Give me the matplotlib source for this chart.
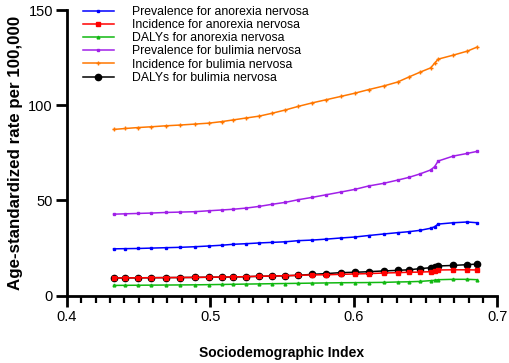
import matplotlib
matplotlib.use('Agg')
import matplotlib.pyplot as plt
from matplotlib.ticker import MultipleLocator

plt.rcParams['font.family'] = ['Liberation Sans', 'DejaVu Sans']

sdi = [0.4326, 0.4408, 0.4499, 0.4590, 0.4688, 0.4788, 0.4890, 0.4990, 0.5079, 0.5160,
       0.5249, 0.5342, 0.5431, 0.5522, 0.5613, 0.5708, 0.5808, 0.5908, 0.6006, 0.6103,
       0.6208, 0.6306, 0.6383, 0.6460, 0.6535, 0.6563, 0.6588, 0.6693, 0.6791, 0.6861]

prev_an = [24.6, 24.7, 24.8, 25.0, 25.2, 25.4, 25.7, 26.1, 26.5, 27.0,
           27.3, 27.7, 28.0, 28.3, 28.9, 29.2, 29.7, 30.3, 30.8, 31.6,
           32.4, 33.1, 33.6, 34.3, 35.4, 36.2, 37.6, 38.3, 38.7, 38.3]
inc_an = [9.3, 9.35, 9.4, 9.45, 9.5, 9.55, 9.6, 9.7, 9.75, 9.85,
          10.0, 10.2, 10.3, 10.5, 10.7, 10.9, 11.0, 11.2, 11.4, 11.6,
          11.9, 12.1, 12.3, 12.4, 12.6, 13.1, 13.5, 13.6, 13.6, 13.5]
daly_an = [5.4, 5.45, 5.5, 5.55, 5.6, 5.65, 5.7, 5.8, 5.9, 6.0,
           6.1, 6.2, 6.3, 6.4, 6.5, 6.6, 6.7, 6.8, 6.85, 6.9,
           7.0, 7.2, 7.3, 7.5, 7.9, 8.1, 8.4, 8.6, 8.6, 8.4]
prev_bn = [42.8, 43.0, 43.2, 43.4, 43.7, 43.9, 44.1, 44.6, 45.0, 45.4,
           46.0, 46.9, 48.0, 49.0, 50.4, 51.6, 53.0, 54.4, 55.8, 57.6,
           59.0, 60.7, 62.1, 63.9, 66.0, 67.7, 70.7, 73.3, 74.7, 75.8]
inc_bn = [87.3, 87.8, 88.3, 88.7, 89.2, 89.6, 90.1, 90.6, 91.4, 92.3,
          93.3, 94.3, 95.8, 97.5, 99.4, 101.2, 102.9, 104.6, 106.3, 108.2,
          110.1, 112.2, 114.8, 117.3, 119.6, 122.0, 124.2, 126.3, 128.4, 130.6]
daly_bn = [9.3, 9.35, 9.4, 9.45, 9.5, 9.55, 9.6, 9.7, 9.75, 9.85,
           10.0, 10.2, 10.3, 10.5, 10.7, 11.2, 11.6, 12.1, 12.3, 12.6,
           13.0, 13.3, 13.6, 14.2, 14.7, 15.2, 15.6, 15.9, 16.3, 16.6]

fig = plt.figure(figsize=(5.1, 3.63), dpi=100)
ax = fig.add_axes([0.131, 0.1854, 0.844, 0.787])

lw = 1.1
ax.plot(sdi, prev_an, color='#0000FF', lw=lw, marker='s', ms=2, label='Prevalence for anorexia nervosa')
ax.plot(sdi, inc_an, color='#FF0000', lw=lw, marker='s', ms=2.2, label='Incidence for anorexia nervosa', zorder=4)
ax.plot(sdi, daly_an, color='#11B811', lw=lw, marker='^', ms=2, label='DALYs for anorexia nervosa')
ax.plot(sdi, prev_bn, color='#A020E8', lw=lw, marker='s', ms=2, label='Prevalence for bulimia nervosa')
ax.plot(sdi, inc_bn, color='#FF7700', lw=lw, marker='+', ms=2.5, label='Incidence for bulimia nervosa')
ax.plot(sdi, daly_bn, color='black', lw=lw, marker='o', ms=4.5, label='DALYs for bulimia nervosa', zorder=3)

ax.set_xlim(0.4, 0.7)
ax.set_ylim(0, 150)
ax.set_xticks([0.4, 0.5, 0.6, 0.7])
ax.set_xticklabels(['0.4', '0.5', '0.6', '0.7'])
ax.xaxis.set_minor_locator(MultipleLocator(0.01))
ax.yaxis.set_major_locator(MultipleLocator(50))

for s in ['top', 'right']:
    ax.spines[s].set_visible(False)
for s in ['left', 'bottom']:
    ax.spines[s].set_linewidth(2)
ax.tick_params(which='major', length=8, width=2, labelsize=10.5, pad=2)
ax.tick_params(which='minor', length=5, width=1.6)

ax.set_xlabel('Sociodemographic Index', fontsize=10, fontweight='bold', labelpad=16)
ax.set_ylabel('Age-standardized rate per 100,000', fontsize=12.2, fontweight='bold', labelpad=4)

ax.legend(loc='upper left', bbox_to_anchor=(0.163, 0.984), bbox_transform=fig.transFigure,
          frameon=False, fontsize=8.8, borderpad=0, borderaxespad=0,
          handlelength=2.5, handletextpad=1.5, labelspacing=0.1)

fig.savefig('out.png', dpi=100)
